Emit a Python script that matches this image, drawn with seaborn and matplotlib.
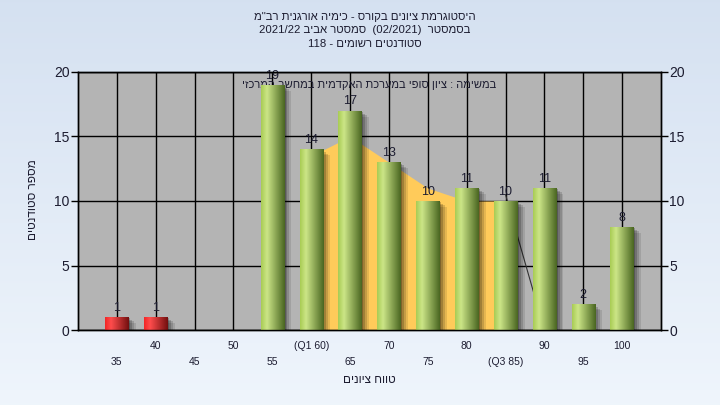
#Histogram of grades - bars with gradient shading, IQR band and twin y axis

import numpy as np
import matplotlib
matplotlib.use("Agg")
import matplotlib.pyplot as plt
import seaborn as sns
import pandas as pd
from matplotlib.patches import Rectangle

# ---- data ----
categories = ["35", "40", "45", "50", "55", "60", "65", "70", "75", "80", "85", "90", "95", "100"]
tick_labels = ["35", "40", "45", "50", "55", "(Q1 60)", "65", "70", "75", "80", "(Q3 85)", "90", "95", "100"]
students = [1, 1, 0, 0, 19, 14, 17, 13, 10, 11, 10, 11, 2, 8]
groups = ["fail", "fail", "fail", "fail", "pass", "pass", "pass", "pass", "pass", "pass", "pass", "pass", "pass", "pass"]
iqr_categories = ["60", "65", "70", "75", "80", "85"]
iqr_curve = [13.5, 15, 13, 11, 10, 10]
line_categories = ["85", "90"]
line_values = [10.5, 0]

# matplotlib has no bidi, so hebrew is written in visual order
def rtl(s):
    return s[::-1]

title1 = rtl('היסטוגרמת ציונים בקורס - כימיה אורגנית רב"מ')
title2 = "2021/22 " + rtl("אביב") + " " + rtl("סמסטר") + "  (02/2021)  " + rtl("בסמסטר")
title3 = "118 - " + rtl("רשומים") + " " + rtl("סטודנטים")
caption = rtl("במשימה : ציון סופי במערכת האקדמית במחשב המרכזי")
xlabel = rtl("טווח ציונים")
ylabel = rtl("מספר סטודנטים")

sns.set_theme(style="white")
plt.rcParams['font.family'] = ['Liberation Sans', 'DejaVu Sans']
txt = "#1c1c30"

fig = plt.figure(figsize=(7.2, 4.05), dpi=100)

# background gradient
bg = fig.add_axes([0, 0, 1, 1], zorder=-10)
grad = np.linspace(0, 1, 256).reshape(-1, 1)
top_c = np.array([0.835, 0.882, 0.945])
bot_c = np.array([0.937, 0.961, 0.988])
img = top_c + (bot_c - top_c) * grad[:, :, None] * np.ones((1, 2, 1))
bg.imshow(img, aspect="auto", extent=[0, 1, 0, 1])
bg.axis("off")

ax = fig.add_axes([78 / 720, 1 - 330 / 405, (661 - 78) / 720, (330 - 72) / 405])
ax.set_facecolor("#b4b4b4")

df = pd.DataFrame({"range": categories, "students": students, "group": groups})
sns.barplot(data=df, x="range", y="students", hue="group", order=categories,
            palette={"fail": "#d42020", "pass": "#8fb545"}, dodge=False,
            width=0.6, legend=False, ax=ax)

# gradient colours for the cylinder look
def ramp(c_edge, c_light, c_dark, n=64):
    t = np.linspace(0, 1, n)
    out = np.zeros((1, n, 3))
    for i, v in enumerate(t):
        if v < 0.25:
            f = v / 0.25
            out[0, i] = np.array(c_edge) * (1 - f) + np.array(c_light) * f
        else:
            f = (v - 0.25) / 0.75
            out[0, i] = np.array(c_light) * (1 - f) + np.array(c_dark) * f
    return out

green = ramp((0.66, 0.80, 0.33), (0.80, 0.90, 0.53), (0.29, 0.40, 0.13))
red = ramp((0.95, 0.15, 0.15), (1.0, 0.30, 0.30), (0.45, 0.06, 0.06))

bars = [p for p in ax.patches if p.get_height() > 0]
for p in ax.patches:
    p.set_zorder(3)
    p.set_edgecolor("none")
for p in bars:
    x0, w, h = p.get_x(), p.get_width(), p.get_height()
    is_fail = p.get_facecolor()[0] > 0.7
    im = ax.imshow(red if is_fail else green, extent=[x0, x0 + w, 0, h],
                   aspect="auto", zorder=3.5)
    im.set_clip_path(p)
    # soft shadow to the right
    for k, a in enumerate([0.22, 0.18, 0.14, 0.10]):
        dx = 0.04 + 0.05 * k
        ax.add_patch(Rectangle((x0 + dx, -0.4), w, h - 0.1 - 0.12 * k + 0.4,
                               color="black", alpha=a, lw=0, zorder=2.5))

# interquartile band and line
x_iqr = [categories.index(c) for c in iqr_categories]
ax.fill_between(x_iqr, 0, iqr_curve, color="#ffcb5a", lw=0, zorder=1.5)
x_line = [categories.index(c) for c in line_categories]
ax.plot(x_line, line_values, color="#333333", lw=0.8, zorder=2)

# value labels
for i, v in enumerate(students):
    if v > 0:
        ax.text(i, v + 0.25, str(v), ha="center", va="bottom", fontsize=9,
                color=txt, zorder=6)

ax.text(0.5, 0.95, caption, transform=ax.transAxes, ha="center", va="center",
        fontsize=8, color=txt, zorder=1.8)

ax.set_xlim(-1, 14)
ax.set_ylim(0, 20)
ax.set_yticks([0, 5, 10, 15, 20])
ax.set_xticks(range(len(categories)))
stag = [("\n" + l) if i % 2 == 0 else l for i, l in enumerate(tick_labels)]
ax.set_xticklabels(stag, fontsize=7.5, color=txt)
for t in ax.get_xticklabels():
    t.set_linespacing(1.7)
ax.tick_params(axis="x", direction="out", length=3, width=1, color="black", pad=5)
ax.tick_params(axis="y", direction="out", length=5, width=1, color="black", pad=1,
               labelsize=10, labelcolor=txt)
ax.grid(True, color="black", lw=1)
ax.set_axisbelow(True)
ax.set_xlabel("")
ax.set_ylabel("")
for s in ax.spines.values():
    s.set_color("black")
    s.set_linewidth(1)

ax2 = ax.twinx()
ax2.set_ylim(0, 20)
ax2.set_yticks([0, 5, 10, 15, 20])
ax2.tick_params(axis="y", direction="out", length=5, width=1, color="black", pad=1,
                labelsize=10, labelcolor=txt)
ax2.grid(False)
for s in ax2.spines.values():
    s.set_color("black")
    s.set_linewidth(1)

fig.text(0.507, 1 - 17 / 405, title1, ha="center", va="center", fontsize=8.2, color=txt)
fig.text(0.507, 1 - 30 / 405, title2, ha="center", va="center", fontsize=8.2, color=txt)
fig.text(0.507, 1 - 44 / 405, title3, ha="center", va="center", fontsize=8.2, color=txt)
fig.text(369 / 720, 1 - 380 / 405, xlabel, ha="center", va="center", fontsize=8.5, color=txt)
fig.text(33 / 720, 1 - 200 / 405, ylabel, ha="center", va="center", rotation=90,
         fontsize=8.5, color=txt)

fig.savefig("out.png", dpi=100)
